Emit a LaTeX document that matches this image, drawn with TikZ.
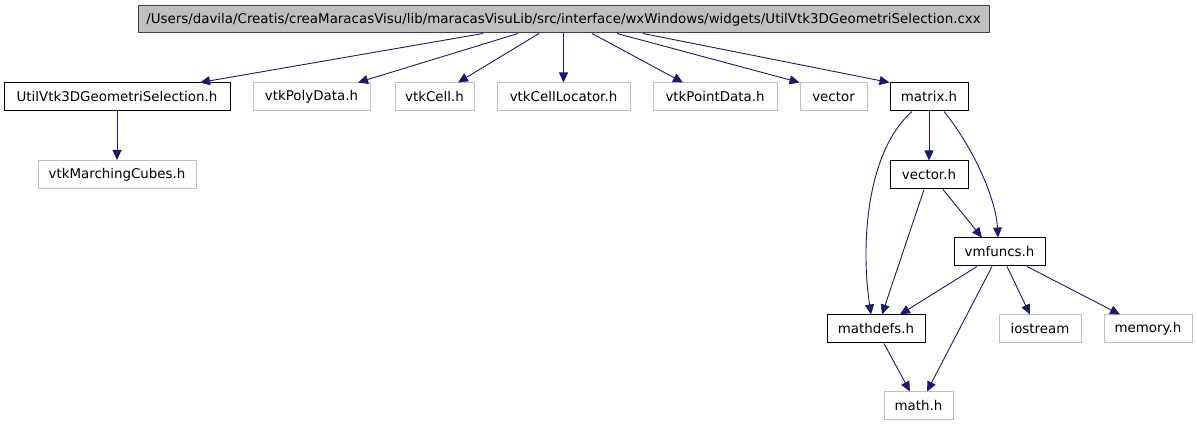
\documentclass[tikz,border=0pt]{standalone}
\usepackage{fontspec}
\setmainfont{DejaVu Sans}
\usetikzlibrary{arrows.meta}
\definecolor{edgeblue}{HTML}{191970}
\definecolor{boxgray}{HTML}{BFBFBF}
\definecolor{topfill}{HTML}{BFBFBF}
\begin{document}
\begin{tikzpicture}[x=1pt,y=-1pt,
  every node/.style={font=\fontsize{13.4}{15}\selectfont, inner sep=0pt, minimum height=28pt, anchor=center},
  filebox/.style={draw=black, line width=1pt, fill=white},
  extbox/.style={draw=boxgray, line width=1pt, fill=white},
  topbox/.style={draw=black!75, line width=1pt, fill=topfill, minimum height=27pt},
  dep/.style={draw=edgeblue, line width=0.9pt, -{Triangle[length=10pt,width=9pt]}}]
\useasboundingbox (0,0) rectangle (1197,427);
\fill[white] (0,0) rectangle (1197,427);

\node[topbox, minimum width=851pt] (top) at (563.5,19.5) {/Users/davila/Creatis/creaMaracasVisu/lib/maracasVisuLib/src/interface/wxWindows/widgets/UtilVtk3DGeometriSelection.cxx};

\node[filebox, minimum width=226pt] (util) at (117,97) {UtilVtk3DGeometriSelection.h};
\node[extbox, minimum width=117pt] (poly) at (311.5,97) {vtkPolyData.h};
\node[extbox, minimum width=79pt] (cell) at (434.5,97) {vtkCell.h};
\node[extbox, minimum width=133pt] (loc) at (563.5,97) {vtkCellLocator.h};
\node[extbox, minimum width=124pt] (pdata) at (715,97) {vtkPointData.h};
\node[extbox, minimum width=67pt] (vec) at (833.5,97) {vector};
\node[filebox, minimum width=78pt] (matrix) at (929,97) {matrix.h};

\node[extbox, minimum width=158pt] (march) at (117,174.5) {vtkMarchingCubes.h};
\node[filebox, minimum width=78pt] (vech) at (929,175) {vector.h};
\node[filebox, minimum width=91pt] (vmf) at (999.5,252) {vmfuncs.h};
\node[filebox, minimum width=98pt] (mdefs) at (876,329) {mathdefs.h};
\node[extbox, minimum width=82pt] (ios) at (1040,329) {iostream};
\node[extbox, minimum width=88pt] (mem) at (1148,329) {memory.h};
\node[extbox, minimum width=69pt] (math) at (918.5,406) {math.h};

\draw[dep] ([xshift=-80.5pt]top.south) -- ([xshift=83pt]util.north);
\draw[dep] ([xshift=-45.5pt]top.south) -- ([xshift=46.5pt]poly.north);
\draw[dep] ([xshift=-24.5pt]top.south) -- ([xshift=23.5pt]cell.north);
\draw[dep] (top.south) -- (loc.north);
\draw[dep] ([xshift=28.5pt]top.south) -- ([xshift=-32pt]pdata.north);
\draw[dep] ([xshift=53.5pt]top.south) -- (vec.north west);
\draw[dep] ([xshift=79.5pt]top.south) -- (matrix.north west);

\draw[dep] (util.south) -- (march.north);
\draw[dep] (matrix.south) -- (vech.north);
\draw[dep] ([xshift=-17pt]matrix.south) .. controls (868,150) and (860,240) .. ([xshift=-5pt]mdefs.north);
\draw[dep] ([xshift=15pt]matrix.south) .. controls (975,150) and (996,200) .. ([xshift=-1.5pt]vmf.north);
\draw[dep] ([xshift=-5pt]vech.south) -- ([xshift=6pt]mdefs.north);
\draw[dep] ([xshift=14pt]vech.south) -- ([xshift=-17.5pt]vmf.north);
\draw[dep] ([xshift=-22.5pt]vmf.south) -- ([xshift=24pt]mdefs.north);
\draw[dep] ([xshift=-7.5pt]vmf.south) -- ([xshift=8.5pt]math.north);
\draw[dep] ([xshift=7.5pt]vmf.south) -- ([xshift=-10pt]ios.north);
\draw[dep] ([xshift=27.5pt]vmf.south) -- ([xshift=-28pt]mem.north);
\draw[dep] ([xshift=8pt]mdefs.south) -- ([xshift=-8.5pt]math.north);
\end{tikzpicture}
\end{document}
